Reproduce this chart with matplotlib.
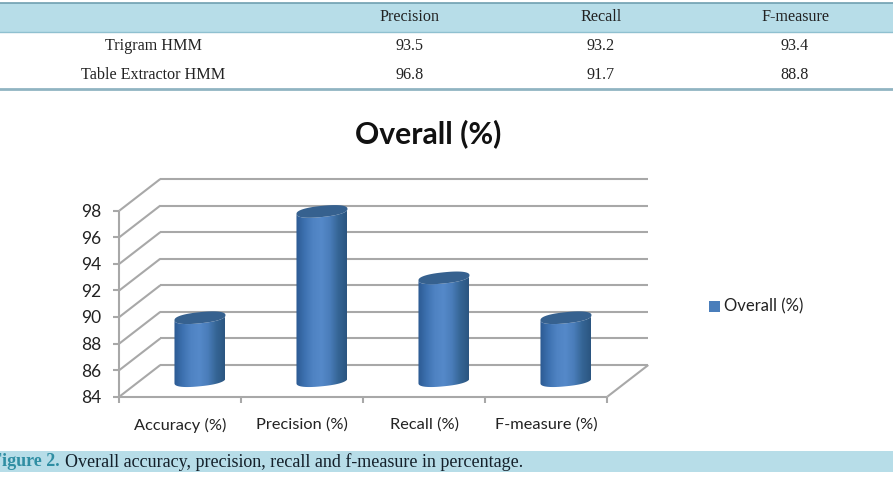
#!/usr/bin/env python
"""Results table and pseudo-3D cylinder chart of the overall scores."""

import matplotlib
matplotlib.use("Agg")
import matplotlib.pyplot as plt
import numpy as np
from matplotlib.colors import LinearSegmentedColormap
from matplotlib.patches import Polygon, Rectangle

CATEGORIES = ["Accuracy (%)", "Precision (%)", "Recall (%)", "F-measure (%)"]
OVERALL = [89, 97, 92, 89]
Y_TICKS = [84, 86, 88, 90, 92, 94, 96, 98]

TABLE_HEADER = ["Precision", "Recall", "F-measure"]
TABLE_ROWS = ["Trigram HMM", "Table Extractor HMM"]
TABLE_VALUES = [["93.5", "93.2", "93.4"], ["96.8", "91.7", "88.8"]]

BAND = "#b7dde8"
GRID = "#a8a8a8"
SERIF = "Liberation Serif"
SANS = "Lato"

# depth of the floor, in data units of the chart axes
DEPTH_X = 0.336
DEPTH_Y = 2.385
BAR_DEPTH = 0.48
BAR_HALF = 0.209

body_cmap = LinearSegmentedColormap.from_list(
    "cyl", ["#2c5a92", "#3d71b0", "#4f83c3", "#5589c9", "#4a7dba", "#356595", "#2b5580"])


def ellipse(cx, cy, t):
    # slightly squared-off ellipse, sheared so the right side sits higher
    c, s = np.cos(t), np.sin(t)
    c = np.sign(c) * np.abs(c) ** 0.85
    s = np.sign(s) * np.abs(s) ** 0.85
    return np.c_[cx + BAR_HALF * c, cy + 0.42 * s + 0.19 * c]


def cylinder(ax, pos, value):
    cx = pos + 0.5 + BAR_DEPTH * DEPTH_X
    base = 84 + BAR_DEPTH * DEPTH_Y + 0.06
    top = value + BAR_DEPTH * DEPTH_Y - 0.2
    lower = np.linspace(np.pi, 2 * np.pi, 50)
    outline = np.r_[ellipse(cx, base, lower), ellipse(cx, top, lower[::-1])]
    grad = np.linspace(0, 1, 128).reshape(1, -1)
    im = ax.imshow(grad, cmap=body_cmap, aspect="auto", zorder=3,
                   extent=(cx - BAR_HALF, cx + BAR_HALF, base - 1, top + 1))
    im.set_clip_path(Polygon(outline, closed=True, transform=ax.transData))
    t = np.linspace(0, 2 * np.pi, 100)
    ax.add_patch(Polygon(ellipse(cx, top, t), closed=True, fc="#36618f", ec="none",
                         zorder=4, clip_on=False))


def draw_page(fig):
    page = fig.add_axes([0, 0, 1, 1])
    page.set_xlim(0, 893)
    page.set_ylim(480, 0)
    page.axis("off")

    page.add_patch(Rectangle((0, 3), 893, 28.5, fc=BAND, ec="none"))
    page.plot([0, 893], [2.5, 2.5], color="#6f9fb0", lw=1.2)
    page.plot([0, 893], [31.5, 31.5], color="#8fc0d0", lw=1)
    page.plot([0, 893], [88.5, 88.5], color="#90b4c2", lw=2)

    xs = [409.5, 601, 795]
    for x, label in zip(xs, TABLE_HEADER):
        page.text(x, 17, label, ha="center", va="center", family=SERIF, fontsize=11.6, color="#222222")
    for y, name, vals in zip([46, 75], TABLE_ROWS, TABLE_VALUES):
        page.text(153.5, y, name, ha="center", va="center", family=SERIF, fontsize=11.6, color="#222222")
        for x, v in zip(xs, vals):
            page.text(x, y, v, ha="center", va="center", family=SERIF, fontsize=11.6, color="#222222")

    page.add_patch(Rectangle((0, 451), 893, 21, fc=BAND, ec="none"))
    page.text(60, 462, "Figure 2.", ha="right", va="center", family=SERIF, fontsize=13,
              fontweight="bold", color="#2f8ea3")
    page.text(65, 462, "Overall accuracy, precision, recall and f-measure in percentage.",
              ha="left", va="center", family=SERIF, fontsize=13, color="#14202a")

    page.text(428.5, 134, "Overall (%)", ha="center", va="center", family=SANS, fontsize=21.7,
              fontweight="bold", color="#111111")
    page.add_patch(Rectangle((709, 301), 11, 11, fc="#4a7ebb", ec="none"))
    page.text(724, 306, "Overall (%)", ha="left", va="center", family=SANS, fontsize=12, color="#222222")


def draw_chart(fig):
    ax = fig.add_axes([119.3 / 893, 1 - 396.7 / 480, 488 / 893, 186 / 480])
    ax.patch.set_alpha(0)
    for side in ax.spines.values():
        side.set_visible(False)
    n = len(CATEGORIES)

    line = dict(color=GRID, lw=1.5, clip_on=False, zorder=1, solid_capstyle="butt")
    for v in Y_TICKS:
        ax.plot([DEPTH_X, n + DEPTH_X], [v + DEPTH_Y, v + DEPTH_Y], **line)
        ax.plot([0, DEPTH_X], [v, v + DEPTH_Y], **line)
    ax.plot([0, n], [84, 84], **line)
    ax.plot([0, 0], [84, 98], **line)
    ax.plot([n, n + DEPTH_X], [84, 84 + DEPTH_Y], **line)

    for i, value in enumerate(OVERALL):
        cylinder(ax, i, value)

    ax.set_xlim(0, n)
    ax.set_ylim(84, 98)
    ax.set_yticks(Y_TICKS)
    ax.set_xticks(np.arange(n + 1))
    ax.set_xticks(np.arange(n) + 0.5, minor=True)
    ax.set_xticklabels([])
    ax.set_xticklabels(CATEGORIES, minor=True, family=SANS, fontsize=11.8, color="#222222")
    ax.tick_params(axis="x", which="major", length=4, width=1.5, color=GRID)
    ax.tick_params(axis="x", which="minor", length=0, pad=15)
    ax.tick_params(axis="y", length=4, width=1.5, color=GRID, pad=9)
    for lab in ax.get_yticklabels():
        lab.set_family(SANS)
        lab.set_fontsize(12.5)
        lab.set_color("#222222")


def main():
    fig = plt.figure(figsize=(8.93, 4.80), dpi=100, facecolor="white")
    draw_page(fig)
    draw_chart(fig)
    fig.savefig("out.png", dpi=100)
    plt.close(fig)


if __name__ == "__main__":
    main()
